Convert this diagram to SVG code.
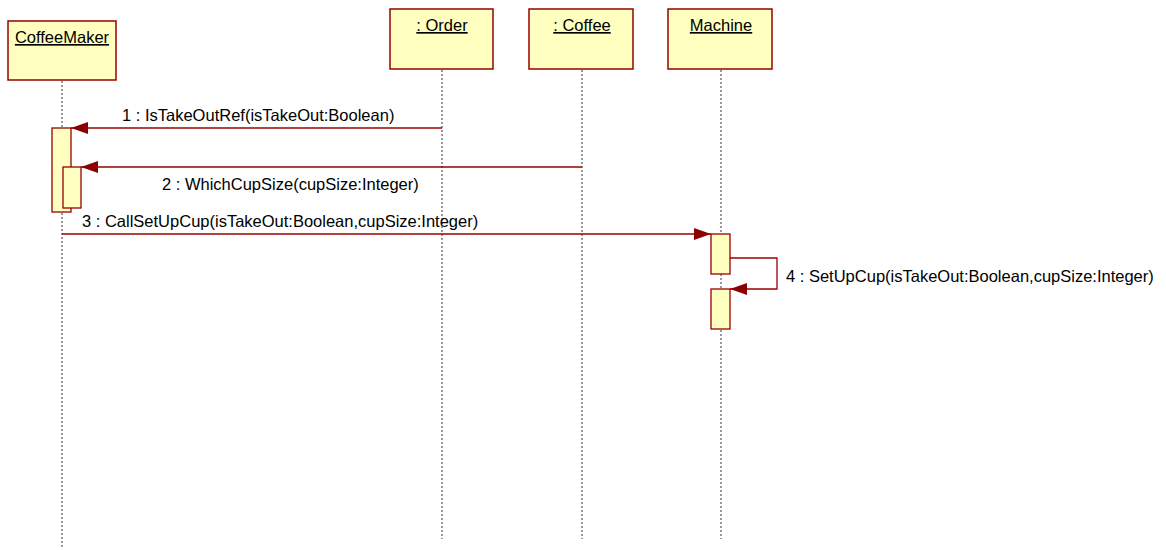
<svg xmlns="http://www.w3.org/2000/svg" width="1166" height="550" viewBox="0 0 1166 550">
<defs>
<style>
.box{fill:#FFFFC0;stroke:#990000;stroke-width:1.5}
.act{fill:#FFFFC0;stroke:#990000;stroke-width:1.3}
.life{stroke:#333;stroke-width:1;stroke-dasharray:2,2;fill:none}
.msg{stroke:#990000;stroke-width:1.3;fill:none}
.t{font-family:"Liberation Sans",Arial,sans-serif;font-size:16.5px;fill:#000}
.h{font-family:"Liberation Sans",Arial,sans-serif;font-size:16.5px;fill:#000;text-decoration:underline}
</style>
<marker id="arr" markerWidth="18" markerHeight="12" refX="17" refY="6" orient="auto" markerUnits="userSpaceOnUse">
<path d="M0,0 L17,6 L0,12 Z" fill="#8B0000"/>
</marker>
</defs>
<rect width="1166" height="550" fill="#fff"/>
<g id="lifelines">
<line class="life" x1="62" y1="81" x2="62" y2="548"/>
<line class="life" x1="442" y1="70" x2="442" y2="539"/>
<line class="life" x1="582" y1="70" x2="582" y2="539"/>
<line class="life" x1="721" y1="70" x2="721" y2="539"/>
</g>
<g id="coffeemaker">
<rect class="box" x="8" y="21" width="108" height="59"/>
<text class="h" x="62" y="43" text-anchor="middle">CoffeeMaker</text>
</g>
<g id="order">
<rect class="box" x="390" y="9" width="103" height="60"/>
<text class="h" x="442" y="31" text-anchor="middle">: Order</text>
</g>
<g id="coffee">
<rect class="box" x="529" y="9" width="104" height="60"/>
<text class="h" x="582" y="31" text-anchor="middle">: Coffee</text>
</g>
<g id="machine">
<rect class="box" x="668" y="9" width="104" height="60"/>
<text class="h" x="721" y="31" text-anchor="middle">Machine</text>
</g>
<g id="activations">
<rect class="act" x="52" y="128" width="19" height="84"/>
<rect class="act" x="63" y="167" width="18" height="41"/>
<rect class="act" x="711" y="234" width="19" height="40"/>
<rect class="act" x="711" y="289" width="19" height="40"/>
</g>
<g id="connectors">
<line class="msg" x1="442" y1="128" x2="71" y2="128" marker-end="url(#arr)"/>
<line class="msg" x1="582" y1="167" x2="81" y2="167" marker-end="url(#arr)"/>
<line class="msg" x1="62" y1="234" x2="711" y2="234" marker-end="url(#arr)"/>
<polyline class="msg" points="730,258 777,258 777,289 730,289" marker-end="url(#arr)"/>
</g>
<g id="labels">
<text class="t" x="122" y="121">1 : IsTakeOutRef(isTakeOut:Boolean)</text>
<text class="t" x="162" y="190">2 : WhichCupSize(cupSize:Integer)</text>
<text class="t" x="82" y="227">3 : CallSetUpCup(isTakeOut:Boolean,cupSize:Integer)</text>
<text class="t" x="786" y="282">4 : SetUpCup(isTakeOut:Boolean,cupSize:Integer)</text>
</g>
</svg>
